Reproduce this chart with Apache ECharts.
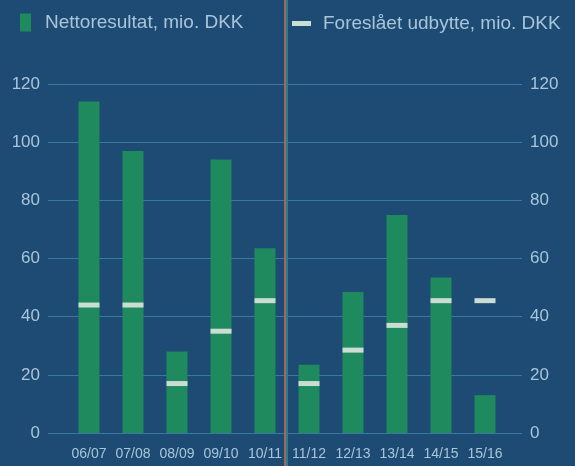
<!DOCTYPE html>
<html>
<head>
<meta charset="utf-8">
<script src="https://cdn.jsdelivr.net/npm/echarts@6/dist/echarts.min.js"></script>
<style>
  html, body { margin: 0; padding: 0; background: #1d4b73; }
  #chart { width: 575px; height: 466px; }
</style>
</head>
<body>
<div id="chart"></div>
<script>
const categories = ['06/07', '07/08', '08/09', '09/10', '10/11', '11/12', '12/13', '13/14', '14/15', '15/16'];
const netResult = [114, 97, 28, 94, 63.5, 23.5, 48.5, 75, 53.5, 13];
const dividend = [44, 44, 17, 35, 45.5, 17, 28.5, 37, 45.5, 45.5];
const yTicks = [0, 20, 40, 60, 80, 100, 120];
const seriesNames = ['Nettoresultat, mio. DKK', 'Foreslået udbytte, mio. DKK'];

const FONT = "'Liberation Sans', Arial, sans-serif";
const TEXT = '#a9c5da';
const GRID = '#3b78a2';

const chart = echarts.init(document.getElementById('chart'), null, { renderer: 'canvas' });
const yMin = yTicks[0], yMax = yTicks[yTicks.length - 1], yStep = yTicks[1] - yTicks[0];

chart.setOption({
  backgroundColor: '#1d4b73',
  animation: false,
  legend: [
    {
      data: [{ name: seriesNames[0], icon: 'rect' }],
      left: 15, top: 8, itemWidth: 11, itemHeight: 18,
      textStyle: { color: TEXT, fontFamily: FONT, fontSize: 19, padding: [0, 0, 0, 9] }
    },
    {
      data: [{ name: seriesNames[1], icon: 'rect' }],
      left: 287, top: 9, itemWidth: 19, itemHeight: 5,
      textStyle: { color: TEXT, fontFamily: FONT, fontSize: 19, padding: [0, 0, 0, 7] }
    }
  ],
  grid: [
    { left: 48, right: 53, top: 84, bottom: 33 },
    { left: 67, right: 68, top: 84, bottom: 33 }
  ],
  xAxis: [
    { gridIndex: 0, type: 'value', show: false, min: 0, max: 1 },
    {
      gridIndex: 1, type: 'category', data: categories,
      axisLine: { show: false }, axisTick: { show: false },
      axisLabel: { color: TEXT, fontFamily: FONT, fontSize: 14, margin: 14, interval: 0 }
    }
  ],
  yAxis: [
    {
      gridIndex: 0, type: 'value', position: 'left', min: yMin, max: yMax, interval: yStep,
      axisLine: { show: false }, axisTick: { show: false },
      axisLabel: { color: TEXT, fontFamily: FONT, fontSize: 17, margin: 8 },
      splitLine: { show: true, lineStyle: { color: GRID, width: 1 } }
    },
    {
      gridIndex: 0, type: 'value', position: 'right', min: yMin, max: yMax, interval: yStep,
      axisLine: { show: false }, axisTick: { show: false },
      axisLabel: { color: TEXT, fontFamily: FONT, fontSize: 17, margin: 8 },
      splitLine: { show: false }
    },
    {
      gridIndex: 1, type: 'value', min: yMin, max: yMax, interval: yStep, show: false
    }
  ],
  series: [
    {
      name: seriesNames[0], type: 'bar', xAxisIndex: 1, yAxisIndex: 2,
      data: netResult, barWidth: 21,
      itemStyle: { color: '#208a5f' }
    },
    {
      name: seriesNames[1], type: 'scatter', xAxisIndex: 1, yAxisIndex: 2,
      data: dividend, symbol: 'rect', symbolSize: [21, 5],
      itemStyle: { color: '#c9ddd4', opacity: 1 }, z: 5
    }
  ],
  graphic: [
    { type: 'rect', shape: { x: 284, y: 0, width: 2, height: 466 }, style: { fill: '#a8645a' }, silent: true, z: 100 },
    { type: 'rect', shape: { x: 286, y: 0, width: 2, height: 466 }, style: { fill: '#2b7f8c' }, silent: true, z: 100 }
  ]
});
</script>
</body>
</html>
